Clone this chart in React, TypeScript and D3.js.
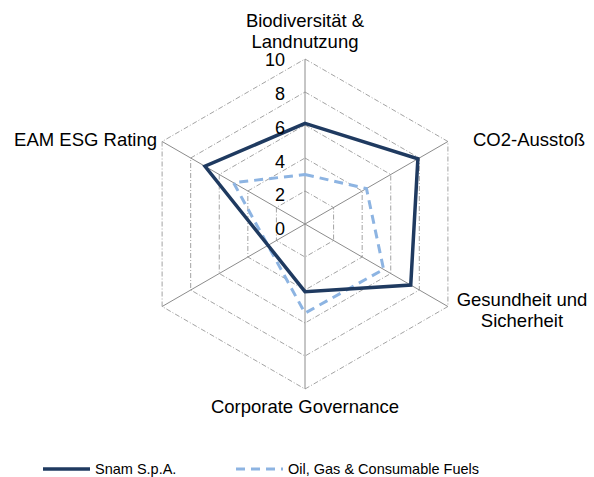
import { useEffect, useRef } from "react";
import * as d3 from "d3";

// six spokes; the lower-left one carries no label and no value
const categories = [
  ["Biodiversität &", "Landnutzung"],
  ["CO2-Ausstoß"],
  ["Gesundheit und", "Sicherheit"],
  ["Corporate Governance"],
  [],
  ["EAM ESG Rating"],
];
const axisCount = 6;
const snam: (number | null)[] = [6.1, 7.9, 7.4, 4.1, null, 7.0];
const sector: (number | null)[] = [3.0, 4.3, 5.5, 5.4, null, 5.0];
const ticks = [0, 2, 4, 6, 8, 10];
const seriesNames = ["Snam S.p.A.", "Oil, Gas & Consumable Fuels"];

export default function App() {
  const svgRef = useRef<SVGSVGElement>(null);

  useEffect(() => {
    const width = 594;
    const height = 477;
    const cx = 305;
    const cy = 224;
    const font = "'Liberation Sans', Arial, sans-serif";

    const svg = d3.select(svgRef.current);
    svg.selectAll("*").remove();
    svg.append("rect").attr("width", width).attr("height", height).attr("fill", "#fff");

    const r = d3.scaleLinear().domain([0, 10]).range([0, 165]);
    const angle = (i: number) => (i * 2 * Math.PI) / axisCount;
    const pt = (i: number, v: number): [number, number] => [
      cx + r(v) * Math.sin(angle(i)),
      cy - r(v) * Math.cos(angle(i)),
    ];

    const g = svg.append("g");

    // grid rings
    ticks.slice(1).forEach(t => {
      const pts = d3.range(axisCount).map(i => pt(i, t));
      g.append("polygon")
        .attr("points", pts.map(p => p.join(",")).join(" "))
        .attr("fill", "none")
        .attr("stroke", "#8c8c8c")
        .attr("stroke-width", 0.8)
        .attr("stroke-dasharray", "5,2,1,2");
    });

    // spokes
    d3.range(axisCount).forEach(i => {
      const [x, y] = pt(i, 10);
      g.append("line")
        .attr("x1", cx).attr("y1", cy)
        .attr("x2", x).attr("y2", y)
        .attr("stroke", "#8c8c8c")
        .attr("stroke-width", 1);
    });

    const line = d3.line<[number, number]>().curve(d3.curveLinearClosed);
    const toPts = (vals: (number | null)[]) =>
      vals.flatMap((v, i) => (v == null ? [] : [pt(i, v)]));

    g.append("path")
      .attr("d", line(toPts(sector)))
      .attr("fill", "none")
      .attr("stroke", "#8db4e2")
      .attr("stroke-width", 3)
      .attr("stroke-dasharray", "9,6");

    g.append("path")
      .attr("d", line(toPts(snam)))
      .attr("fill", "none")
      .attr("stroke", "#1f3a60")
      .attr("stroke-width", 3.5)
      .attr("stroke-linejoin", "miter");

    // tick labels
    ticks.forEach(t => {
      g.append("text")
        .attr("x", cx - 20)
        .attr("y", cy + 4.5 - r(t) * 1.022)
        .attr("dy", "0.36em")
        .attr("text-anchor", "end")
        .attr("font-family", font)
        .attr("font-size", 18)
        .attr("fill", "#000")
        .text(t);
    });

    // category labels
    const labelPos: { x: number; y: number; anchor: string }[] = [
      { x: cx, y: 27, anchor: "middle" },
      { x: 473, y: 146, anchor: "start" },
      { x: 522, y: 306, anchor: "middle" },
      { x: cx, y: 413, anchor: "middle" },
      { x: 0, y: 0, anchor: "middle" },
      { x: 157, y: 146, anchor: "end" },
    ];
    categories.forEach((lines, i) => {
      lines.forEach((s, j) => {
        g.append("text")
          .attr("x", labelPos[i].x)
          .attr("y", labelPos[i].y + j * 21)
          .attr("text-anchor", labelPos[i].anchor)
          .attr("font-family", font)
          .attr("font-size", 18.5)
          .attr("fill", "#000")
          .text(s);
      });
    });

    // legend
    const legendY = 469;
    const lg = svg.append("g");
    lg.append("line")
      .attr("x1", 43).attr("x2", 90)
      .attr("y1", legendY).attr("y2", legendY)
      .attr("stroke", "#1f3a60")
      .attr("stroke-width", 3.5);
    lg.append("text")
      .attr("x", 95).attr("y", legendY + 5)
      .attr("font-family", font).attr("font-size", 14.5)
      .text(seriesNames[0]);
    lg.append("line")
      .attr("x1", 236).attr("x2", 283)
      .attr("y1", legendY).attr("y2", legendY)
      .attr("stroke", "#8db4e2")
      .attr("stroke-width", 3)
      .attr("stroke-dasharray", "9,6");
    lg.append("text")
      .attr("x", 288).attr("y", legendY + 5)
      .attr("font-family", font).attr("font-size", 14.5)
      .text(seriesNames[1]);
  }, []);

  return (
    <svg
      ref={svgRef}
      width={594}
      height={477}
      style={{ position: "absolute", left: 0, top: 0, display: "block" }}
    ></svg>
  );
}
